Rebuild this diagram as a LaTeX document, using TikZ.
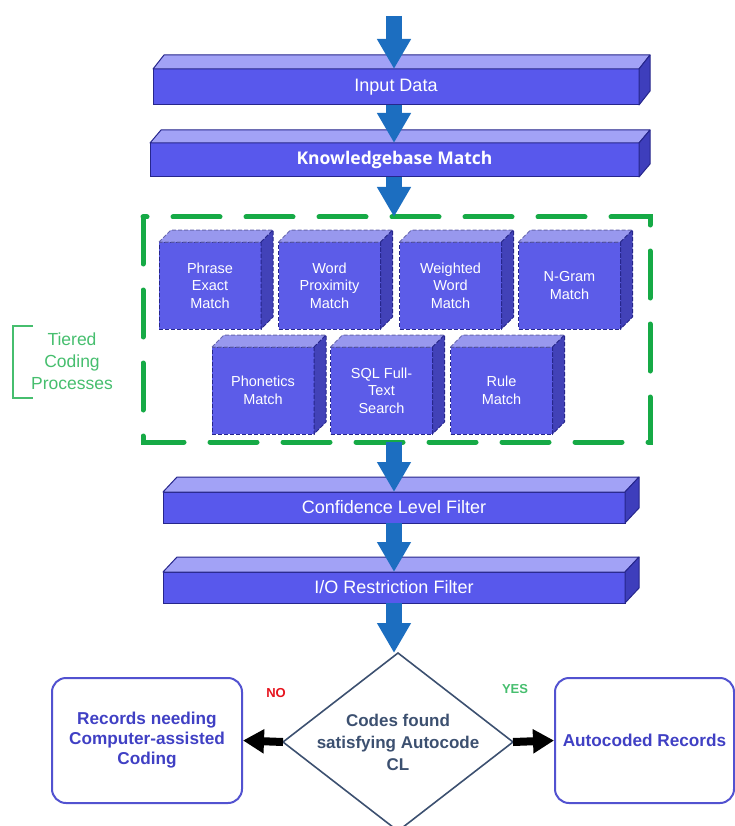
\documentclass[tikz,border=0pt]{standalone}
\usepackage{fontspec}
\setmainfont{Liberation Sans}
\newfontfamily\kbfont{Open Sans}
\usetikzlibrary{arrows.meta,shapes.geometric,calc}
\definecolor{barfrontcol}{RGB}{88,88,236}
\definecolor{bartopcol}{RGB}{162,162,246}
\definecolor{barsidecol}{RGB}{62,62,188}
\definecolor{edgecol}{RGB}{38,38,140}
\definecolor{cubefrontcol}{RGB}{92,92,232}
\definecolor{cubetopcol}{RGB}{152,152,238}
\definecolor{cubesidecol}{RGB}{66,66,184}
\definecolor{arrowblue}{RGB}{28,110,192}
\definecolor{tiergreen}{RGB}{22,170,70}
\definecolor{labelgreen}{RGB}{70,190,110}
\definecolor{diamondcol}{RGB}{60,80,112}
\definecolor{boxcol}{RGB}{82,82,208}
\definecolor{boxtext}{RGB}{64,64,196}
\definecolor{notext}{RGB}{230,20,30}

\newcommand\mkbar[7]{%
  \node[barfront, minimum width=#3pt, minimum height=#4pt] (#1) at (#2) {#7};
  \filldraw[bartop] (#1.north west) -- ++(#5,-#6) -- ($(#1.north east)+(#5,-#6)$) -- (#1.north east) -- cycle;
  \filldraw[barside] (#1.north east) -- ++(#5,-#6) -- ($(#1.south east)+(#5,-#6)$) -- (#1.south east) -- cycle;
}
\newcommand\mkcube[3]{%
  \node[cubefront] (#1) at (#2) {#3};
  \filldraw[cubetop] (#1.north west) -- ++(12,-12) -- ($(#1.north east)+(12,-12)$) -- (#1.north east) -- cycle;
  \filldraw[cubeside] (#1.north east) -- ++(12,-12) -- ($(#1.south east)+(12,-12)$) -- (#1.south east) -- cycle;
}

\begin{document}
\begin{tikzpicture}[x=1pt,y=-1pt,
  barfront/.style={draw=edgecol, fill=barfrontcol, line width=1pt, inner sep=0pt, outer sep=0pt,
    text=white, font=\fontsize{18}{21}\selectfont},
  bartop/.style={draw=edgecol, fill=bartopcol, line width=1pt, line join=round},
  barside/.style={draw=edgecol, fill=barsidecol, line width=1pt, line join=round},
  cubefront/.style={draw=edgecol, fill=cubefrontcol, line width=1pt, dash pattern=on 4pt off 2pt,
    inner sep=0pt, outer sep=0pt, minimum width=102pt, minimum height=87pt, align=center,
    text=white, font=\fontsize{14.5}{17.5}\selectfont},
  cubetop/.style={draw=edgecol!70, fill=cubetopcol, line width=1pt, dash pattern=on 4pt off 2pt},
  cubeside/.style={draw=edgecol, fill=cubesidecol, line width=1pt, dash pattern=on 4pt off 2pt},
  bluearrow/.style={draw=arrowblue, line width=16pt, -{Triangle[length=30pt,width=32pt]}},
  blackarrow/.style={draw=black, line width=8pt, -{Triangle[length=21pt,width=23pt]}},
  tierdash/.style={draw=tiergreen, line width=5pt, line cap=round, dash pattern=on 47pt off 26pt},
  outbox/.style={draw=boxcol, line width=2pt, rounded corners=14pt, minimum height=125pt,
    align=center, text=boxtext, font=\bfseries\fontsize{17.2}{20}\selectfont},
]
\useasboundingbox (0,0) rectangle (735,826);
\clip (0,0) rectangle (735,826);

% tiered box
\node[minimum width=507pt, minimum height=225pt, inner sep=0pt, outer sep=0pt] (tier) at (396.5,329.5) {};
\draw[tierdash] (tier.north west) -- (tier.south west) -- (tier.south east) -- (tier.north east) -- cycle;

% bracket and label
\draw[labelgreen, line width=2pt] (33,326) -- (13,326) -- (13,398) -- (33,398);
\node[text=labelgreen, align=center, font=\fontsize{17.5}{22}\selectfont] (tierlabel) at (72,361) {Tiered\\Coding\\Processes};

% bars
\mkbar{input}{396,87}{486}{36}{11}{14}{Input Data}
\mkbar{kb}{394.5,160}{489}{34}{11}{13}{\kbfont\bfseries\fontsize{17.5}{21}\selectfont Knowledgebase Match}
\mkbar{conf}{394,507.5}{462}{31}{14}{15}{Confidence Level Filter}
\mkbar{io}{394,587.5}{462}{31}{14}{15}{I/O Restriction Filter}

% cubes
\mkcube{phrase}{210,285.5}{Phrase\\Exact\\Match}
\mkcube{prox}{329.5,285.5}{Word\\Proximity\\Match}
\mkcube{weighted}{450.5,285.5}{Weighted\\Word\\Match}
\mkcube{ngram}{569.5,285.5}{N-Gram\\Match}
\mkcube{phon}{263,390.5}{Phonetics\\Match}
\mkcube{sql}{381.5,390.5}{SQL Full-\\Text\\Search}
\mkcube{rule}{501.5,390.5}{Rule\\Match}

% decision
\node[diamond, draw=diamondcol, line width=1.6pt, minimum width=230pt, minimum height=178pt,
  inner sep=0pt, outer sep=0pt] (dec) at (398,742) {};
\node[align=center, text=diamondcol, font=\bfseries\fontsize{17}{22}\selectfont] (dectext) at (dec.center) {Codes found\\satisfying Autocode\\CL};

% outcome boxes
\node[outbox, minimum width=190pt] (manual) at (147,740.5) {Records needing\\Computer-assisted\\Coding};
\node[outbox, minimum width=179pt] (auto) at (644.5,740.5) {Autocoded Records};

\node[text=notext, font=\bfseries\fontsize{13}{15}\selectfont] (no) at (276,693) {NO};
\node[text=labelgreen, font=\bfseries\fontsize{13}{15}\selectfont] (yes) at (515,689) {YES};

% blue arrows
\coordinate (start) at (394,16);
\draw[bluearrow] (start) -- (input.north -| start);
\draw[bluearrow] (input.south -| start) -- (kb.north -| start);
\draw[bluearrow] (kb.south -| start) -- (tier.north -| start);
\draw[bluearrow] (tier.south -| start) -- (conf.north -| start);
\draw[bluearrow] (conf.south -| start) -- (io.north -| start);
\draw[bluearrow] (io.south -| start) -- (dec.north -| start);

% black arrows
\draw[blackarrow] (dec.west) -- (manual.east);
\draw[blackarrow] (dec.east) -- (auto.west);
\end{tikzpicture}
\end{document}
